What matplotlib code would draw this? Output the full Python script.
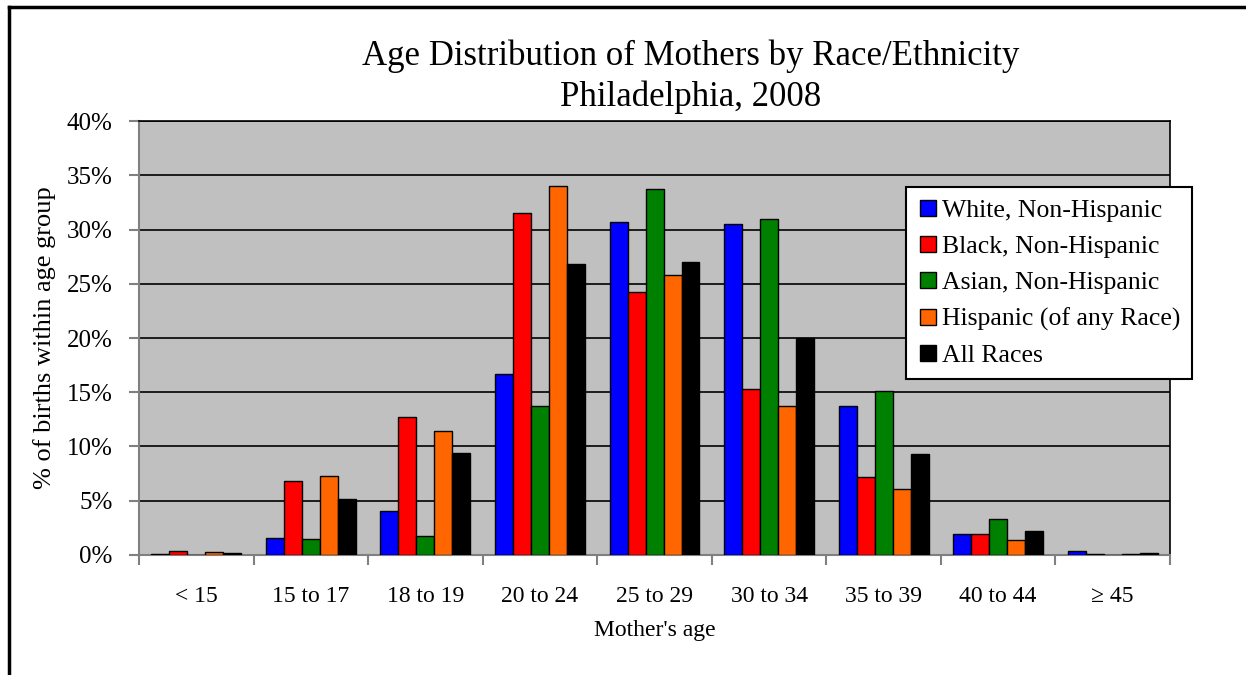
import matplotlib.pyplot as plt
import matplotlib.lines as mlines
import numpy as np

ages = ['< 15', '15 to 17', '18 to 19', '20 to 24', '25 to 29',
        '30 to 34', '35 to 39', '40 to 44', '\u2265 45']
white = [0.05, 1.6, 4.05, 16.7, 30.7, 30.5, 13.7, 1.9, 0.35]
black = [0.4, 6.8, 12.7, 31.5, 24.2, 15.3, 7.2, 1.9, 0.1]
asian = [0.0, 1.5, 1.75, 13.7, 33.7, 31.0, 15.1, 3.3, 0.0]
hispanic = [0.3, 7.3, 11.4, 34.0, 25.8, 13.7, 6.05, 1.35, 0.05]
all_races = [0.2, 5.2, 9.4, 26.8, 27.0, 20.0, 9.3, 2.2, 0.15]

series = [('White, Non-Hispanic', white, '#0000ff'),
          ('Black, Non-Hispanic', black, '#ff0000'),
          ('Asian, Non-Hispanic', asian, '#008000'),
          ('Hispanic (of any Race)', hispanic, '#ff6600'),
          ('All Races', all_races, '#000000')]

plt.rcParams['font.family'] = ['Liberation Serif', 'DejaVu Serif']

fig = plt.figure(figsize=(12.46, 6.75), dpi=100)
ax = fig.add_axes([0.1116, 0.1778, 0.8274, 0.6429])
ax.set_facecolor('#c0c0c0')

x = np.arange(len(ages))
w = 0.157
handles = []
for i, (name, vals, col) in enumerate(series):
  ax.bar(x + (i - 2) * w, vals, w, color=col, edgecolor='black',
         linewidth=1.0, zorder=3)
  handles.append(mlines.Line2D([], [], marker='s', linestyle='none',
                               markersize=11, markerfacecolor=col,
                               markeredgecolor='black', label=name))

ax.set_xlim(-0.5, len(ages) - 0.5)
ax.set_ylim(0, 40)
ax.set_yticks(np.arange(0, 41, 5))
ax.set_yticklabels([f'{v}%' for v in range(0, 41, 5)], fontsize=18)
ax.yaxis.grid(True, color='black', linewidth=1.2, zorder=1)
ax.set_axisbelow(True)

ax.set_xticks(x)
ax.set_xticklabels(ages, fontsize=17)
ax.set_xticks(np.arange(-0.5, len(ages)), minor=True)
ax.tick_params(axis='x', which='major', length=0, pad=22)
ax.tick_params(axis='x', which='minor', length=7, color='#808080', width=1.5)
ax.tick_params(axis='y', length=7, color='#808080', width=1.5, pad=12)

for s in ['left', 'bottom']:
  ax.spines[s].set_color('#808080')
  ax.spines[s].set_linewidth(1.5)
for s in ['top', 'right']:
  ax.spines[s].set_color('black')
  ax.spines[s].set_linewidth(1.2)

ax.set_xlabel("Mother's age", fontsize=17, labelpad=10)
ax.set_ylabel('% of births within age group', fontsize=19, labelpad=8)

fig.text(0.5546, 0.8867, 'Age Distribution of Mothers by Race/Ethnicity\nPhiladelphia, 2008',
         ha='center', va='center', fontsize=25, linespacing=1.3)

leg = fig.legend(handles=handles, loc='upper left',
                 bbox_to_anchor=(906 / 1246, 1 - 187 / 675),
                 fontsize=18.5, frameon=True, fancybox=False, framealpha=1,
                 facecolor='white', edgecolor='black',
                 handletextpad=0.15, handlelength=0.8, labelspacing=0.52,
                 borderpad=0.45, borderaxespad=0)
leg.get_frame().set_linewidth(1.5)

# chart area border (left and top visible)
fig.add_artist(mlines.Line2D([9 / 1246, 9 / 1246], [0, 1 - 7 / 675],
                             color='black', linewidth=2.5))
fig.add_artist(mlines.Line2D([9 / 1246, 1], [1 - 7 / 675, 1 - 7 / 675],
                             color='black', linewidth=2.5))

plt.savefig('out.png', dpi=100)
plt.close()
